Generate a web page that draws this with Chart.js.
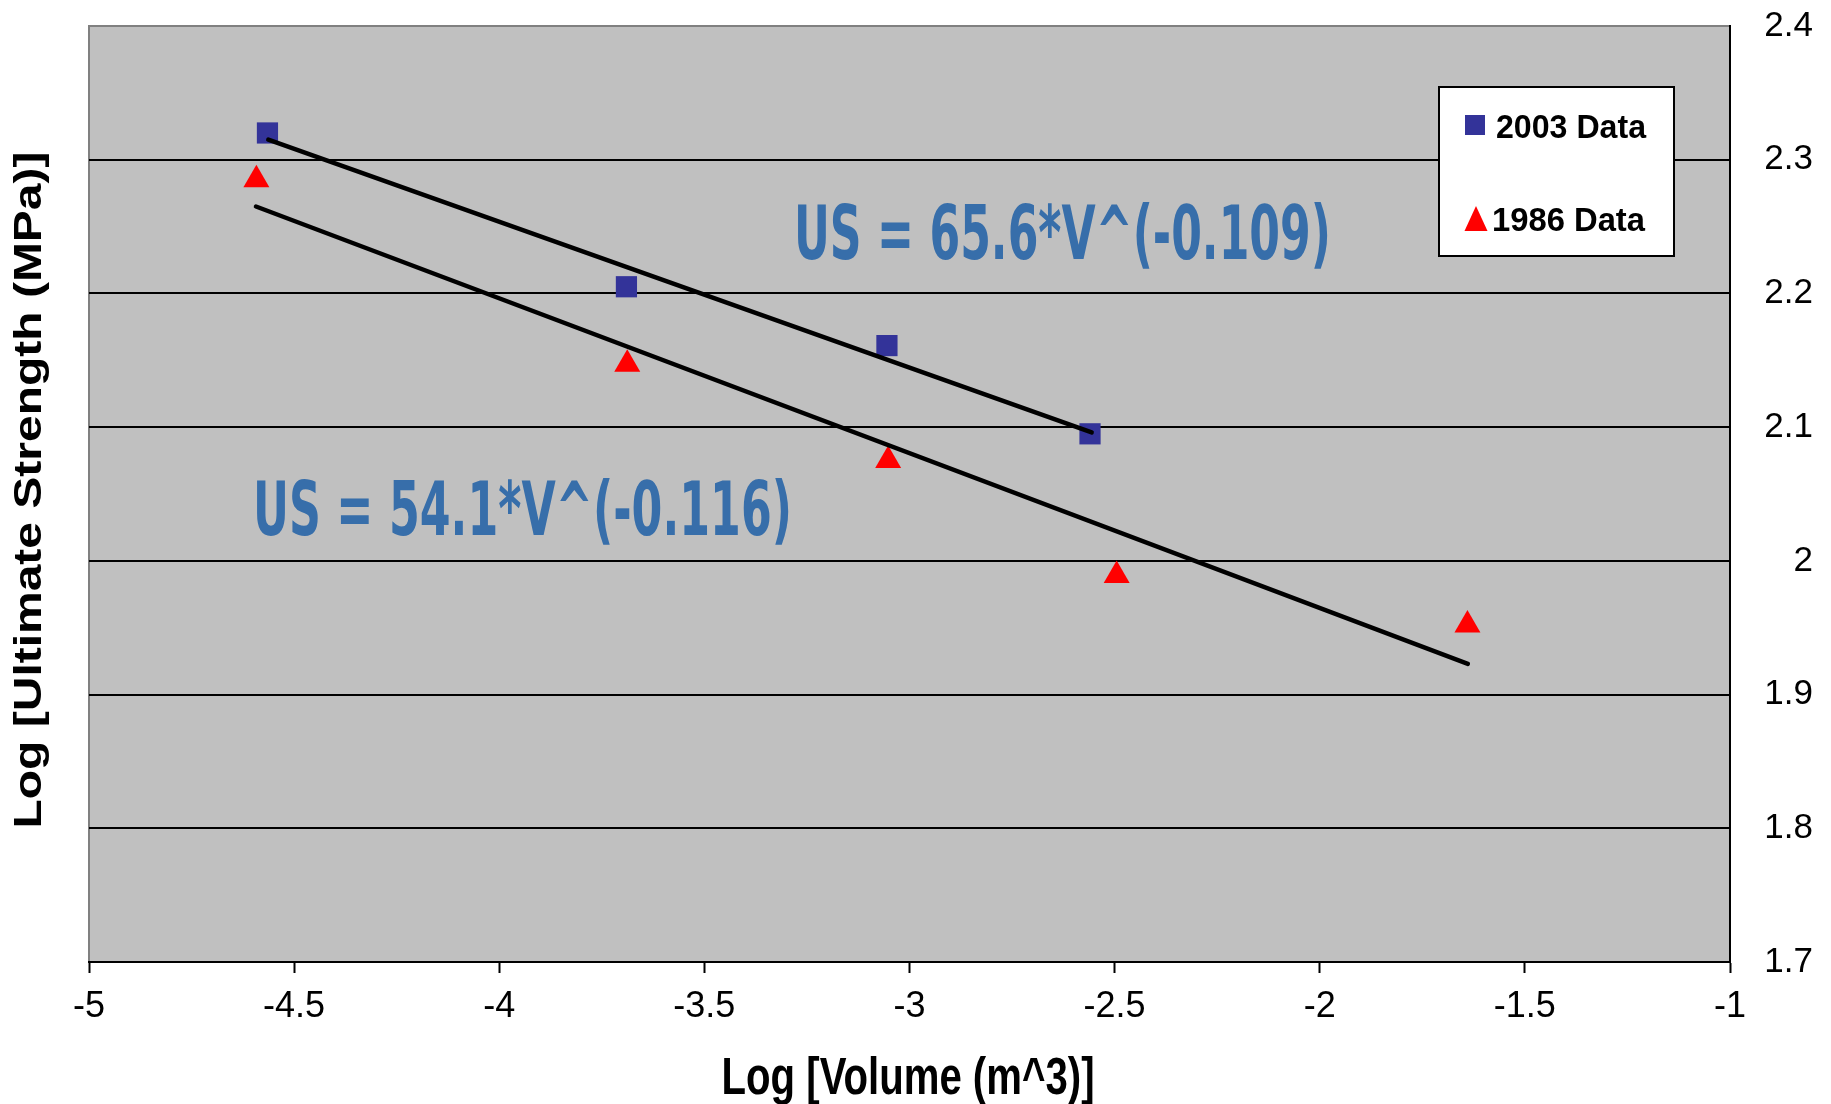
<!DOCTYPE html>
<html>
<head>
<meta charset="utf-8">
<script src="https://cdn.jsdelivr.net/npm/chart.js@4.4.1/dist/chart.umd.min.js"></script>
<style>
html,body{margin:0;padding:0;background:#ffffff;}
canvas{display:block;}
</style>
</head>
<body>
<canvas id="c" width="1831" height="1104"></canvas>
<script>
// ---- data ----
const series2003Label = '2003 Data';
const series1986Label = '1986 Data';
const logVolume2003 = [-4.565, -3.690, -3.055, -2.560];
const logStrength2003 = [2.320, 2.205, 2.161, 2.095];
const logVolume1986 = [-4.592, -3.688, -3.052, -2.495, -1.640];
const logStrength1986 = [2.285, 2.147, 2.075, 1.989, 1.952];
const trendX2003 = [-4.563, -2.556];
const trendY2003 = [2.315, 2.096];
const trendX1986 = [-4.593, -1.639];
const trendY1986 = [2.265, 1.923];
const equationTexts = ['US = 65.6*V^(-0.109)', 'US = 54.1*V^(-0.116)'];
const xTickValues = [-5, -4.5, -4, -3.5, -3, -2.5, -2, -1.5, -1];
const xTickLabels = ['-5', '-4.5', '-4', '-3.5', '-3', '-2.5', '-2', '-1.5', '-1'];
const yTickValues = [1.7, 1.8, 1.9, 2.0, 2.1, 2.2, 2.3, 2.4];
const yTickLabels = ['1.7', '1.8', '1.9', '2', '2.1', '2.2', '2.3', '2.4'];
const xTitle = 'Log [Volume (m^3)]';
const yTitle = 'Log [Ultimate Strength (MPa)]';

// ---- styles ----
const COLOR_2003 = '#333399';
const COLOR_1986 = '#ff0000';
const PLOT_BG = '#c0c0c0';
const EQ_COLOR = '#376eaa';

const toPoints = (xs, ys) => xs.map((x, i) => ({x: x, y: ys[i]}));

function drawScaledText(ctx, text, font, x, y, targetWidth, align) {
  ctx.save();
  ctx.font = font;
  const w = ctx.measureText(text).width;
  const sx = targetWidth / w;
  ctx.translate(x, y);
  ctx.scale(sx, 1);
  ctx.textAlign = align || 'left';
  ctx.fillText(text, 0, 0);
  ctx.restore();
}

const plotBackground = {
  id: 'plotBackground',
  beforeDraw(chart) {
    const {ctx, chartArea: a} = chart;
    ctx.save();
    ctx.fillStyle = PLOT_BG;
    ctx.fillRect(a.left, a.top, a.right - a.left, a.bottom - a.top);
    ctx.strokeStyle = '#808080';
    ctx.lineWidth = 2;
    ctx.beginPath();
    ctx.moveTo(a.left, a.bottom);
    ctx.lineTo(a.left, a.top);
    ctx.lineTo(a.right, a.top);
    ctx.stroke();
    ctx.restore();
  }
};

const overlays = {
  id: 'overlays',
  afterDatasetsDraw(chart) {
    const ctx = chart.ctx;
    ctx.save();
    ctx.fillStyle = EQ_COLOR;
    ctx.textBaseline = 'alphabetic';
    drawScaledText(ctx, equationTexts[0], 'bold 74px "DejaVu Sans"', 794, 259, 537);
    drawScaledText(ctx, equationTexts[1], 'bold 74px "DejaVu Sans"', 253, 535, 539);
    ctx.restore();

    ctx.save();
    const bx = 1439, by = 87, bw = 235, bh = 169;
    ctx.fillStyle = '#ffffff';
    ctx.fillRect(bx, by, bw, bh);
    ctx.strokeStyle = '#000000';
    ctx.lineWidth = 2;
    ctx.strokeRect(bx, by, bw, bh);
    ctx.fillStyle = COLOR_2003;
    ctx.fillRect(1465, 115, 20, 20);
    ctx.fillStyle = COLOR_1986;
    ctx.beginPath();
    ctx.moveTo(1476, 206);
    ctx.lineTo(1487.5, 231);
    ctx.lineTo(1464.5, 231);
    ctx.closePath();
    ctx.fill();
    ctx.fillStyle = '#000000';
    ctx.textBaseline = 'alphabetic';
    drawScaledText(ctx, series2003Label, 'bold 33px "Liberation Sans"', 1496, 138, 150);
    drawScaledText(ctx, series1986Label, 'bold 33px "Liberation Sans"', 1492, 231, 153);
    ctx.restore();
  },
  afterDraw(chart) {
    const ctx = chart.ctx;
    ctx.save();
    ctx.fillStyle = '#000000';
    ctx.textBaseline = 'alphabetic';
    drawScaledText(ctx, xTitle, 'bold 51px "Liberation Sans"', 908, 1094, 373, 'center');
    ctx.save();
    ctx.translate(31, 490);
    ctx.rotate(-Math.PI / 2);
    ctx.textBaseline = 'middle';
    drawScaledText(ctx, yTitle, 'bold 38px "Liberation Sans"', 0, 0, 677, 'center');
    ctx.restore();
    ctx.restore();
  }
};

const chart = new Chart(document.getElementById('c').getContext('2d'), {
  type: 'scatter',
  data: {
    datasets: [
      {
        label: series2003Label,
        data: toPoints(logVolume2003, logStrength2003),
        pointStyle: 'rect',
        pointRadius: 15,
        pointBackgroundColor: COLOR_2003,
        pointBorderColor: COLOR_2003,
        pointBorderWidth: 0,
        order: 2
      },
      {
        label: series1986Label,
        data: toPoints(logVolume1986, logStrength1986),
        pointStyle: 'triangle',
        pointRadius: 15,
        pointBackgroundColor: COLOR_1986,
        pointBorderColor: COLOR_1986,
        pointBorderWidth: 0,
        order: 2
      },
      {
        label: 'Trend 2003',
        data: toPoints(trendX2003, trendY2003),
        showLine: true,
        pointRadius: 0,
        borderColor: '#000000',
        borderWidth: 4.5,
        borderCapStyle: 'round',
        fill: false,
        order: 1
      },
      {
        label: 'Trend 1986',
        data: toPoints(trendX1986, trendY1986),
        showLine: true,
        pointRadius: 0,
        borderColor: '#000000',
        borderWidth: 4.5,
        borderCapStyle: 'round',
        fill: false,
        order: 1
      }
    ]
  },
  options: {
    responsive: false,
    animation: false,
    devicePixelRatio: 1,
    layout: {padding: {left: 89, top: 26, right: 18, bottom: 0}},
    plugins: {legend: {display: false}, tooltip: {enabled: false}},
    scales: {
      x: {
        type: 'linear',
        position: 'bottom',
        min: -5,
        max: -1,
        afterBuildTicks: s => { s.ticks = xTickValues.map(v => ({value: v})); },
        afterFit: s => { s.height = 142; s.paddingLeft = 0; s.paddingRight = 0; },
        ticks: {
          callback: (v, i) => xTickLabels[i],
          font: {family: '"Liberation Sans Narrow", "Liberation Sans"', size: 36},
          color: '#000000',
          padding: 12,
          maxRotation: 0,
          autoSkip: false
        },
        grid: {display: true, drawOnChartArea: false, drawTicks: true, tickLength: 11, tickWidth: 2, tickColor: '#000000'},
        border: {display: true, color: '#000000', width: 2}
      },
      y: {
        type: 'linear',
        position: 'right',
        min: 1.7,
        max: 2.4,
        afterBuildTicks: s => { s.ticks = yTickValues.map(v => ({value: v})); },
        afterFit: s => { s.width = 83; s.paddingTop = 0; s.paddingBottom = 0; },
        ticks: {
          callback: (v, i) => yTickLabels[i],
          font: {family: '"Liberation Sans"', size: 35},
          color: '#000000',
          crossAlign: 'far',
          padding: 34,
          autoSkip: false
        },
        grid: {
          display: true,
          drawTicks: false,
          lineWidth: 2,
          color: c => (c.tick && c.tick.value === 2.4) ? 'rgba(0,0,0,0)' : '#000000'
        },
        border: {display: true, color: '#000000', width: 2}
      }
    }
  },
  plugins: [plotBackground, overlays]
});
</script>
</body>
</html>
